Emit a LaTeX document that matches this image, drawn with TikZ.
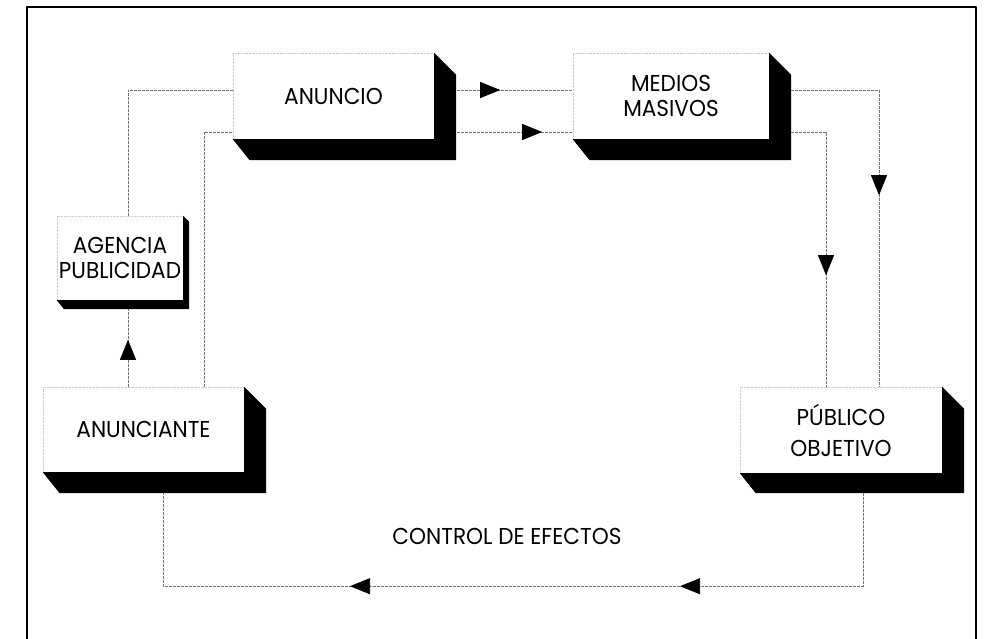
\documentclass[tikz,border=0pt]{standalone}
\usepackage{fontspec}
\setmainfont{Poppins}[FakeStretch=0.94]
\usetikzlibrary{arrows.meta,calc,decorations.markings}

\begin{document}
\begin{tikzpicture}[x=1pt, y=-1pt, line join=round,
  font=\fontsize{23}{25}\selectfont,
  card/.style={fill=white, draw=gray!40, densely dotted, thin, align=center, inner sep=0pt},
  link/.style={draw=black!55, line width=0.7pt, dash pattern=on 3pt off 1pt},
  arrowat/.style={postaction={decorate, decoration={markings,
    mark=at position #1 with {\arrow{Triangle[length=20pt,width=16pt,color=black]}}}}}]
  \useasboundingbox (0,0) rectangle (987,639);
  % outer frame, cut off at the bottom
  \draw[line width=2.8pt] (27,650) -- (27,7) -- (976,7) -- (976,650);

  \node[card, minimum width=201pt, minimum height=86pt] (anuncio) at (333.5,96) {ANUNCIO};
  \node[card, minimum width=196pt, minimum height=86pt] (medios) at (671,96) {MEDIOS\\MASIVOS};
  \node[card, minimum width=126pt, minimum height=84pt] (agencia) at (120,258) {AGENCIA\\PUBLICIDAD};
  \node[card, minimum width=201pt, minimum height=85pt] (anunciante) at (143.5,429.5) {ANUNCIANTE};
  \node[card, minimum width=202pt, minimum height=86pt, font=\fontsize{23}{31}\selectfont] (publico) at (841,430) {PÚBLICO\\OBJETIVO};

  % black drop shadows
  \foreach \n/\d/\s in {anuncio/22/21, medios/22/21, agencia/6/9, anunciante/22/21, publico/22/20}
    \fill (\n.south west) -- (\n.south east) -- (\n.north east) -- ($(\n.north east)+(\d,\d)$)
      -- ($(\n.south east)+(\d,\s)$) -- ($(\n.south west)+(0.8*\s,\s)$) -- cycle;

  \draw[link] ([xshift=8pt]agencia.north) |- ([yshift=6pt]anuncio.west);
  \draw[link] ([xshift=60.5pt]anunciante.north) |- ([yshift=-36pt]anuncio.west);
  \draw[link, arrowat=47pt] ([xshift=-15.5pt]anunciante.north) -- ([xshift=8pt,yshift=-9pt]agencia.south);
  \draw[link, arrowat=43pt] ([xshift=23pt,yshift=6pt]anuncio.east) -- ([yshift=6pt]medios.west);
  \draw[link, arrowat=85pt] ([xshift=23pt,yshift=-36pt]anuncio.east) -- ([yshift=-36pt]medios.west);
  \draw[link, arrowat=193pt] ([xshift=22pt,yshift=6pt]medios.east) -| ([xshift=38pt]publico.north);
  \draw[link, arrowat=178pt] ([xshift=22pt,yshift=-36pt]medios.east) -| ([xshift=-15pt]publico.north);
  \draw[link, arrowat=276pt, arrowat=606pt] ([xshift=22pt,yshift=-20pt]publico.south) -- ++(0,93)
    -| ([xshift=19.5pt,yshift=-21pt]anunciante.south);

  \node (control) at (507,536) {CONTROL DE EFECTOS};
\end{tikzpicture}
\end{document}
